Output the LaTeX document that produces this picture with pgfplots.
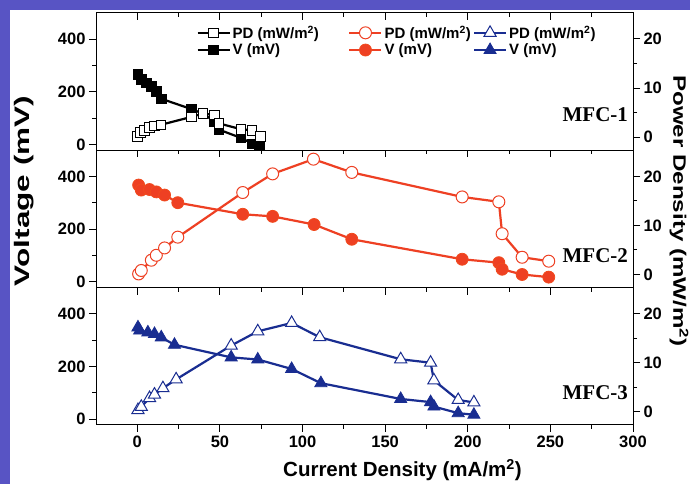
\documentclass[border=0pt]{standalone}
\usepackage{pgfplots}
\pgfplotsset{compat=1.18}
\usepackage{fontspec}
\setmainfont{Liberation Sans}
\newfontfamily\tnr{Liberation Serif}
\usepackage{graphicx}
\definecolor{myred}{RGB}{238,64,35}
\definecolor{myblue}{RGB}{25,45,145}
\definecolor{bgblue}{RGB}{88,84,196}
\newcommand\tickf{\fontsize{16.5}{18}\selectfont\bfseries}
\newcommand\legf{\fontsize{15}{17}\selectfont\bfseries}
\newcommand\mfcf{\fontsize{21}{24}\selectfont\tnr\bfseries}

\pgfplotsset{
 base/.style={scale only axis, width=537pt, height=137.33pt, xmin=-25, xmax=300,
   axis line style={line width=1pt}, every tick/.style={black, line width=1pt},
   major tick length=7pt, minor tick length=4pt,
   tick label style={font=\tickf}, /pgf/number format/assume math mode=true,
   clip=false, anchor=south west},
 Lax/.style={base, ymin=-22, ymax=500, ytick={0,200,400}, minor ytick={100,300},
   ytick pos=left, tick align=outside, xtick=\empty},
 Rax/.style={base, ymin=-2.7, ymax=25.3, ytick={0,10,20}, minor ytick={5,15},
   ytick pos=right, yticklabel pos=right, tick align=outside, xtick=\empty},
 Tax/.style={base, ymin=0, ymax=1, ytick=\empty, xtick={0,50,...,300},
   minor xtick={25,75,...,275}, xtick pos=right, tick align=inside,
   xticklabels={}, xticklabel style={text opacity=0}},
 Gax/.style={base, hide axis, ymin=0, ymax=1,
   legend style={draw=none, fill=none, anchor=west, font=\legf, row sep=0pt,
     nodes={inner sep=2pt}, cells={anchor=west}},
   legend image code/.code={\draw[mark repeat=2,mark phase=2,##1] plot coordinates {(0pt,0pt) (16pt,0pt) (32pt,0pt)};}},
 blackV/.style={black, line width=2.2pt, mark=square*, mark size=4.8pt,
   mark options={solid, fill=black, draw=black, line width=0.8pt}},
 blackP/.style={black, line width=2.2pt, mark=square*, mark size=4.8pt,
   mark options={solid, fill=white, draw=black, line width=0.8pt}},
 redV/.style={myred, line width=2.2pt, mark=*, mark size=6pt,
   mark options={solid, fill=myred, draw=myred!85!orange, line width=0.8pt}},
 redP/.style={myred, line width=2.2pt, mark=*, mark size=6pt,
   mark options={solid, fill=white, draw=myred, line width=1pt}},
 blueV/.style={myblue, line width=2.2pt, mark=triangle*, mark size=7pt,
   mark options={solid, fill=myblue, draw=myblue, line width=0.8pt}},
 blueP/.style={myblue, line width=2.2pt, mark=triangle*, mark size=7pt,
   mark options={solid, fill=white, draw=myblue, line width=1pt}},
}

\begin{document}
\begin{tikzpicture}[x=1pt,y=1pt]
\useasboundingbox (0,0) rectangle (690,484);
\fill[white] (0,0) rectangle (690,484);
\fill[bgblue] (0,0) rectangle (10,484);
\fill[bgblue] (0,474) rectangle (690,484);

% ---------- Panel 1 ----------
\begin{axis}[Lax, at={(96pt,333.67pt)}]
\addplot[blackV] coordinates {(0.4,267) (2.4,248) (5.4,235) (8.5,222) (11.5,203) (14.5,174) (32.6,135) (39.6,118) (46.7,88) (49.3,57) (62.8,25) (69.8,3) (74.0,0)};
\node[anchor=east, inner sep=0pt, font=\mfcf] at (axis description cs:0.991,0.259) {MFC-1};
\end{axis}
\begin{axis}[Rax, at={(96pt,333.67pt)}]
\addplot[blackP] coordinates {(0.2,0.2) (1.8,0.9) (4.4,1.4) (7.4,2.0) (10.4,2.3) (14.2,2.5) (32.6,4.1) (39.6,4.8) (46.7,4.5) (49.3,2.8) (62.8,1.6) (69.4,1.4) (74.5,0.2)};
\end{axis}
\begin{axis}[Tax, at={(96pt,333.67pt)}]
\end{axis}
\begin{axis}[Gax, at={(96pt,333.67pt)}, legend style={at={(0.181,0.796)}}]
\addlegendimage{blackP}\addlegendentry{PD (mW/m\textsuperscript{2})}
\addlegendimage{blackV}\addlegendentry{V (mV)}
\end{axis}
\begin{axis}[Gax, at={(96pt,333.67pt)}, legend style={at={(0.464,0.796)}}]
\addlegendimage{redP}\addlegendentry{PD (mW/m\textsuperscript{2})}
\addlegendimage{redV}\addlegendentry{V (mV)}
\end{axis}
\begin{axis}[Gax, at={(96pt,333.67pt)}, legend style={at={(0.696,0.796)}}]
\addlegendimage{blueP}\addlegendentry{PD (mW/m\textsuperscript{2})}
\addlegendimage{blueV}\addlegendentry{V (mV)}
\end{axis}

% ---------- Panel 2 ----------
\begin{axis}[Lax, at={(96pt,196.33pt)}]
\addplot[redV] coordinates {(0.8,368) (2.4,349) (7.4,351) (11.5,342) (16.5,330) (24.5,301) (63.8,257) (81.9,249) (107,218) (129.8,162) (196.6,86) (218.8,73) (220.8,48) (232.9,28) (249,18)};
\node[anchor=east, inner sep=0pt, font=\mfcf] at (axis description cs:0.991,0.234) {MFC-2};
\end{axis}
\begin{axis}[Rax, at={(96pt,196.33pt)}]
\addplot[redP] coordinates {(0.8,0.1) (2.4,0.8) (8.5,2.9) (11.5,3.9) (16.5,5.4) (24.5,7.6) (63.8,16.7) (81.9,20.5) (106.6,23.5) (129.8,20.8) (196.6,15.8) (218.8,14.8) (220.8,8.3) (232.9,3.5) (249,2.7)};
\end{axis}
\begin{axis}[Tax, at={(96pt,196.33pt)}]
\end{axis}

% ---------- Panel 3 ----------
\begin{axis}[Lax, at={(96pt,59pt)}, xtick={0,50,...,300}, minor xtick={25,75,...,275}, xtick pos=left, xticklabel pos=left]
\addplot[blueV] coordinates {(0.4,349) (1.4,337) (6.4,330) (10.4,324) (14.5,311) (22.5,283) (56.8,235) (72.9,227) (93.4,191) (111.1,137) (159.4,77) (177.5,65) (179.5,48) (194.2,23) (203.7,17)};
\node[anchor=east, inner sep=0pt, font=\mfcf] at (axis description cs:0.991,0.239) {MFC-3};
\end{axis}
\begin{axis}[Rax, at={(96pt,59pt)}]
\addplot[blueP] coordinates {(0.4,0.35) (2.4,1.0) (7.4,2.8) (10.4,3.5) (15.5,4.8) (23.5,6.6) (56.8,13.5) (72.9,16.4) (93.4,18.1) (110.4,15.2) (159.4,10.7) (177.5,10.0) (179.5,6.4) (194.2,2.4) (203.7,1.9)};
\end{axis}
\begin{axis}[Tax, at={(96pt,59pt)}]
\end{axis}

% ---------- axis titles ----------
\node[rotate=90, inner sep=0pt, font=\fontsize{21}{24}\selectfont\bfseries] at (24,293) {\scalebox{1.5}[1]{Voltage (mV)}};
\node[rotate=-90, inner sep=0pt, font=\fontsize{18}{21}\selectfont\bfseries] at (679,273) {\scalebox{1.34}[1]{Power Density (mW/m\textsuperscript{2})}};
\node[inner sep=0pt, font=\fontsize{20.5}{23}\selectfont\bfseries] at (402.5,14) {Current Density (mA/m\textsuperscript{2})};
\end{tikzpicture}
\end{document}
